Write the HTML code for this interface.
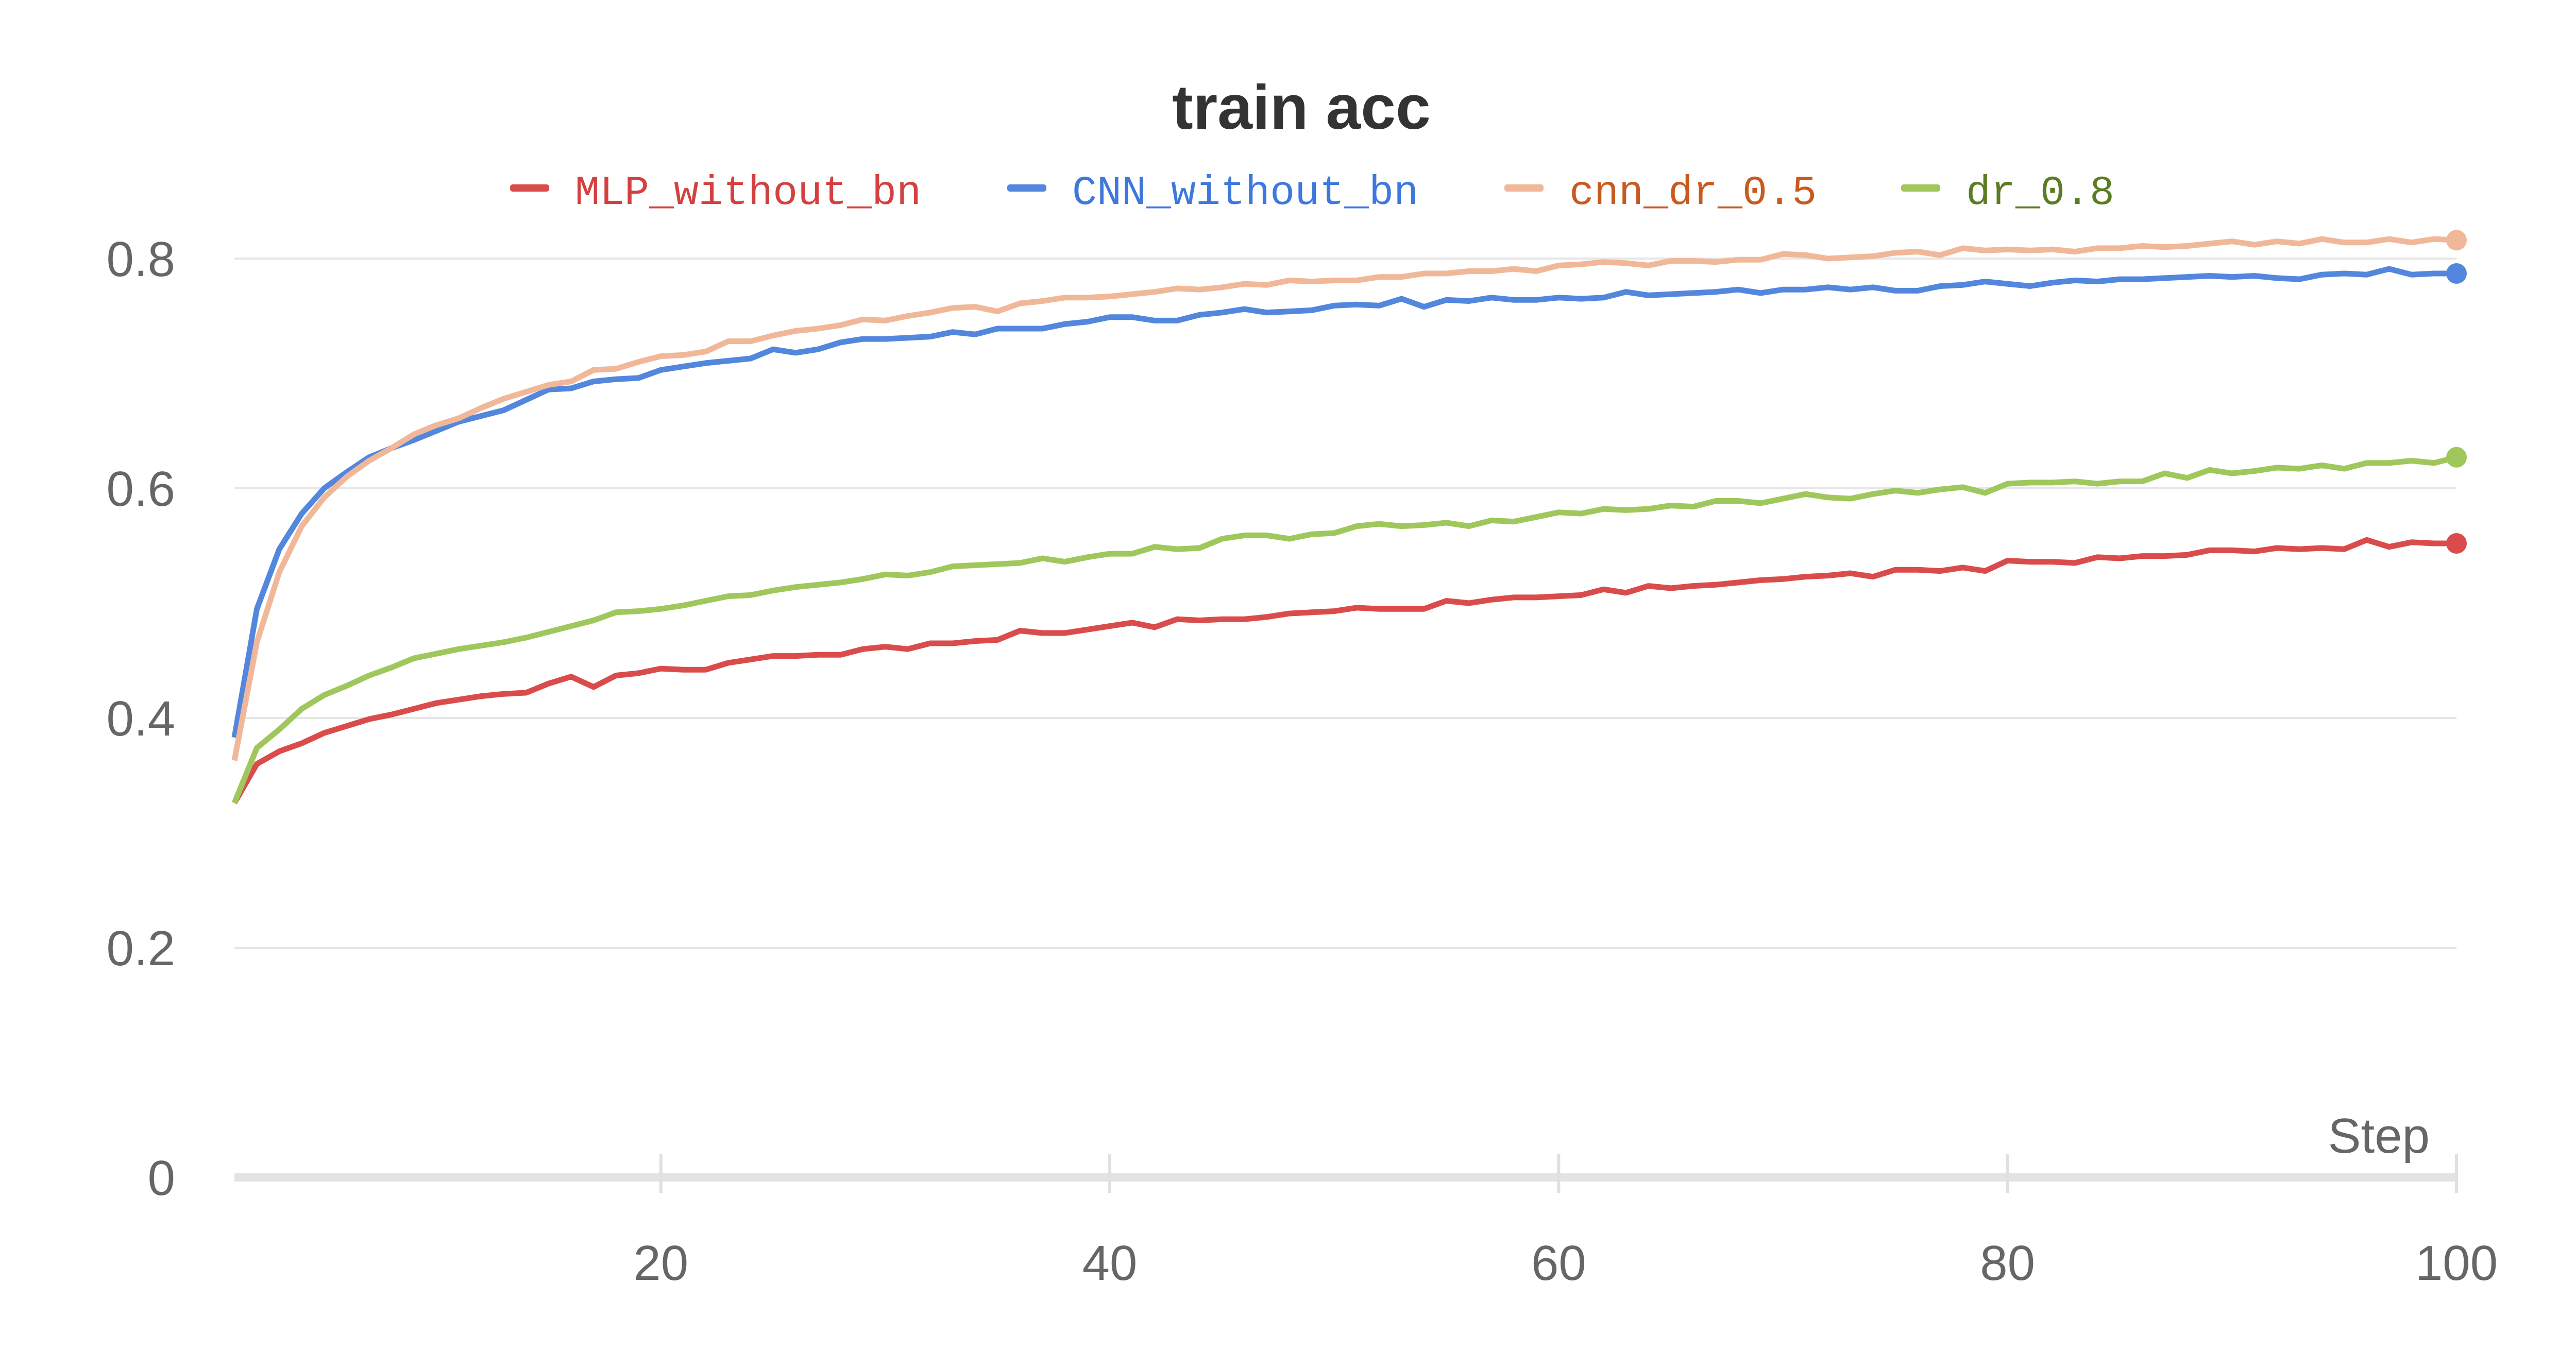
<!DOCTYPE html>
<html><head><meta charset="utf-8"><style>
html,body{margin:0;padding:0;background:#fff;}
svg{display:block;}
</style></head><body>
<svg id="chart" width="5056" height="2656" viewBox="0 0 5056 2656" xmlns="http://www.w3.org/2000/svg">
<text x="2526" y="250" text-anchor="middle" font-family="Liberation Sans, sans-serif" font-weight="bold" font-size="122" fill="#333">train acc</text>
<g id="legend"></g>
<g id="grid"></g>
<g id="axes"></g>
<g id="series"></g>
<text x="4716" y="2238" text-anchor="end" font-family="Liberation Sans, sans-serif" font-size="96" fill="#666">Step</text>
</svg>
<script>
const yTicks=[0,0.2,0.4,0.6,0.8];
const yTickLabels=["0","0.2","0.4","0.6","0.8"];
const xTicks=[20,40,60,80,100];
const xTickLabels=["20","40","60","80","100"];
const seriesNames=["MLP_without_bn","CNN_without_bn","cnn_dr_0.5","dr_0.8"];
const mlp=[0.326,0.360,0.371,0.378,0.387,0.393,0.399,0.403,0.408,0.413,
0.416,0.419,0.421,0.422,0.430,0.436,0.427,0.437,0.439,0.443,
0.442,0.442,0.448,0.451,0.454,0.454,0.455,0.455,0.460,0.462,
0.460,0.465,0.465,0.467,0.468,0.476,0.474,0.474,0.477,0.480,
0.483,0.479,0.486,0.485,0.486,0.486,0.488,0.491,0.492,0.493,
0.496,0.495,0.495,0.495,0.502,0.500,0.503,0.505,0.505,0.506,
0.507,0.512,0.509,0.515,0.513,0.515,0.516,0.518,0.520,0.521,
0.523,0.524,0.526,0.523,0.529,0.529,0.528,0.531,0.528,0.537,
0.536,0.536,0.535,0.540,0.539,0.541,0.541,0.542,0.546,0.546,
0.545,0.548,0.547,0.548,0.547,0.555,0.549,0.553,0.552,0.552];
const cnn=[0.383,0.495,0.547,0.578,0.600,0.614,0.627,0.635,0.642,0.650,
0.658,0.663,0.668,0.677,0.686,0.687,0.693,0.695,0.696,0.703,
0.706,0.709,0.711,0.713,0.721,0.718,0.721,0.727,0.730,0.730,
0.731,0.732,0.736,0.734,0.739,0.739,0.739,0.743,0.745,0.749,
0.749,0.746,0.746,0.751,0.753,0.756,0.753,0.754,0.755,0.759,
0.760,0.759,0.765,0.758,0.764,0.763,0.766,0.764,0.764,0.766,
0.765,0.766,0.771,0.768,0.769,0.770,0.771,0.773,0.770,0.773,
0.773,0.775,0.773,0.775,0.772,0.772,0.776,0.777,0.780,0.778,
0.776,0.779,0.781,0.780,0.782,0.782,0.783,0.784,0.785,0.784,
0.785,0.783,0.782,0.786,0.787,0.786,0.791,0.786,0.787,0.787];
const cnnDr=[0.363,0.466,0.527,0.567,0.592,0.610,0.624,0.635,0.647,0.655,
0.661,0.670,0.678,0.684,0.690,0.693,0.703,0.704,0.710,0.715,
0.716,0.719,0.728,0.728,0.733,0.737,0.739,0.742,0.747,0.746,
0.750,0.753,0.757,0.758,0.754,0.761,0.763,0.766,0.766,0.767,
0.769,0.771,0.774,0.773,0.775,0.778,0.777,0.781,0.780,0.781,
0.781,0.784,0.784,0.787,0.787,0.789,0.789,0.791,0.789,0.794,
0.795,0.797,0.796,0.794,0.798,0.798,0.797,0.799,0.799,0.804,
0.803,0.800,0.801,0.802,0.805,0.806,0.803,0.809,0.807,0.808,
0.807,0.808,0.806,0.809,0.809,0.811,0.810,0.811,0.813,0.815,
0.812,0.815,0.813,0.817,0.814,0.814,0.817,0.814,0.817,0.816];
const dr08=[0.326,0.374,0.390,0.408,0.420,0.428,0.437,0.444,0.452,0.456,
0.460,0.463,0.466,0.470,0.475,0.480,0.485,0.492,0.493,0.495,
0.498,0.502,0.506,0.507,0.511,0.514,0.516,0.518,0.521,0.525,
0.524,0.527,0.532,0.533,0.534,0.535,0.539,0.536,0.540,0.543,
0.543,0.549,0.547,0.548,0.556,0.559,0.559,0.556,0.560,0.561,
0.567,0.569,0.567,0.568,0.570,0.567,0.572,0.571,0.575,0.579,
0.578,0.582,0.581,0.582,0.585,0.584,0.589,0.589,0.587,0.591,
0.595,0.592,0.591,0.595,0.598,0.596,0.599,0.601,0.596,0.604,
0.605,0.605,0.606,0.604,0.606,0.606,0.613,0.609,0.616,0.613,
0.615,0.618,0.617,0.620,0.617,0.622,0.622,0.624,0.622,0.627];

const NS="http://www.w3.org/2000/svg";
const X0=455,X1=4768,Y0=2286,Y08=502;
function xs(s){return X0+(s-1)*(X1-X0)/99;}
function ys(v){return Y0-v*(Y0-Y08)/0.8;}
function mk(tag,attrs,parent){const e=document.createElementNS(NS,tag);for(const k in attrs)e.setAttribute(k,attrs[k]);parent.appendChild(e);return e;}
const grid=document.getElementById('grid'),axes=document.getElementById('axes'),ser=document.getElementById('series'),leg=document.getElementById('legend');

yTicks.forEach((v,i)=>{
  if(v>0){const l=mk('line',{x1:X0,x2:X1,y1:ys(v),y2:ys(v),stroke:'#e6e6e6','stroke-width':4},grid);
  
  }
  const t=mk('text',{x:340,y:ys(v)+34,'text-anchor':'end','font-family':'Liberation Sans, sans-serif','font-size':96,fill:'#666'},axes);
  t.textContent=yTickLabels[i];
  
  
});
const ax=mk('line',{x1:X0,x2:X1,y1:Y0,y2:Y0,stroke:'#e3e3e3','stroke-width':16},axes);


xTicks.forEach((s,i)=>{
  const tk=mk('line',{x1:xs(s),x2:xs(s),y1:Y0-46,y2:Y0+30,stroke:'#e0e0e0','stroke-width':6},axes);
  
  
  const t=mk('text',{x:xs(s),y:2485,'text-anchor':'middle','font-family':'Liberation Sans, sans-serif','font-size':96,fill:'#666'},axes);
  t.textContent=xTickLabels[i];
  
  
});

const datasets=[mlp,cnn,cnnDr,dr08];
const colors=['#da4c4c','#5387dd','#f0b899','#a0c75c'];
const textColors=['#d44040','#3e78dc','#c85a20','#5b7c22'];
const legX=[990,1955,2920,3690];
datasets.forEach((d,i)=>{
  const pts=d.map((v,j)=>xs(j+1).toFixed(1)+','+ys(v).toFixed(1)).join(' ');
  const pl=mk('polyline',{points:pts,fill:'none',stroke:colors[i],'stroke-width':11,'stroke-linejoin':'round'},ser);
  
  
  const c=mk('circle',{cx:xs(d.length),cy:ys(d[d.length-1]),r:20,fill:colors[i]},ser);
  
  
  const r=mk('rect',{x:legX[i],y:358,width:76,height:14,rx:5,fill:colors[i]},leg);
  
  
  const t=mk('text',{x:legX[i]+126,y:396,'font-family':'Liberation Mono, monospace','font-size':80,fill:textColors[i]},leg);
  t.textContent=seriesNames[i];
  
  
});
</script>
</body></html>
